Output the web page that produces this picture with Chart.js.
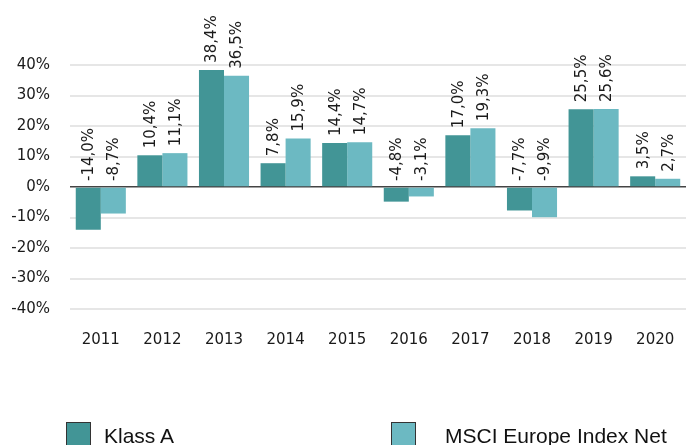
<!DOCTYPE html>
<html>
<head>
<meta charset="utf-8">
<script src="https://cdn.jsdelivr.net/npm/chart.js@4/dist/chart.umd.min.js"></script>
<style>
  html, body { margin: 0; padding: 0; background: #fff; overflow: hidden; }
  #wrap { position: relative; width: 688px; height: 445px; }
  canvas { position: absolute; left: 0; top: 0; }
  .lg-box { position: absolute; width: 25px; height: 25px; border: 1px solid #333; box-sizing: border-box; }
  .lg-text { position: absolute; font-family: "Liberation Sans", Arial, sans-serif; font-size: 21px; color: #111; line-height: 24px; white-space: nowrap; }
</style>
</head>
<body>
<div id="wrap">
  <canvas id="c" width="688" height="445"></canvas>
  <div class="lg-box" id="box1" style="left:66px; top:422px;"></div>
  <div class="lg-text" id="txt1" style="left:104px; top:424px;"></div>
  <div class="lg-box" id="box2" style="left:391px; top:422px;"></div>
  <div class="lg-text" id="txt2" style="left:445px; top:424px;"></div>
</div>
<script>
const categories = ["2011", "2012", "2013", "2014", "2015", "2016", "2017", "2018", "2019", "2020"];
const seriesNames = ["Klass A", "MSCI Europe Index Net"];
const klassA = [-14.0, 10.4, 38.4, 7.8, 14.4, -4.8, 17.0, -7.7, 25.5, 3.5];
const msci = [-8.7, 11.1, 36.5, 15.9, 14.7, -3.1, 19.3, -9.9, 25.6, 2.7];
const yTicks = [-40, -30, -20, -10, 0, 10, 20, 30, 40];
const colors = ["#429596", "#6cb9c2"];

document.getElementById('box1').style.background = colors[0];
document.getElementById('box2').style.background = colors[1];
document.getElementById('txt1').textContent = seriesNames[0];
document.getElementById('txt2').textContent = seriesNames[1];

const fmt = v => v.toFixed(1).replace('.', ',') + '%';

const labelPlugin = {
  id: 'barLabels',
  afterDatasetsDraw(chart) {
    const ctx = chart.ctx;
    const zero = chart.scales.y.getPixelForValue(0);
    ctx.save();
    ctx.font = '15px "DejaVu Sans"';
    ctx.fillStyle = '#1a1a1a';
    ctx.textAlign = 'left';
    ctx.textBaseline = 'middle';
    chart.data.datasets.forEach((ds, di) => {
      const meta = chart.getDatasetMeta(di);
      meta.data.forEach((bar, i) => {
        const v = ds.data[i];
        const y = v >= 0 ? bar.y - 7 : zero - 6;
        ctx.save();
        ctx.translate(bar.x + 1, y);
        ctx.rotate(-Math.PI / 2);
        ctx.fillText(fmt(v), 0, 0);
        ctx.restore();
      });
    });
    ctx.restore();
  }
};

new Chart(document.getElementById('c'), {
  type: 'bar',
  data: {
    labels: categories,
    datasets: [
      { label: seriesNames[0], data: klassA, backgroundColor: colors[0] },
      { label: seriesNames[1], data: msci, backgroundColor: colors[1] }
    ]
  },
  options: {
    responsive: false,
    animation: false,
    events: [],
    layout: { padding: { top: 65, right: 2, left: 0, bottom: 0 } },
    datasets: { bar: { categoryPercentage: 0.813, barPercentage: 1.0 } },
    plugins: { legend: { display: false }, tooltip: { enabled: false } },
    scales: {
      x: {
        grid: { display: false, drawTicks: false },
        border: { display: false },
        ticks: { color: '#1a1a1a', font: { family: 'DejaVu Sans', size: 15 }, padding: 22, maxRotation: 0 },
        afterFit(scale) { scale.height = 136; scale.paddingRight = 0; scale.paddingLeft = 0; }
      },
      y: {
        min: -40, max: 40,
        afterBuildTicks(scale) { scale.ticks = yTicks.map(v => ({ value: v })); },
        grid: {
          drawTicks: false,
          color: ctx => ctx.tick && ctx.tick.value === 0 ? '#444' : '#e6e6e6',
          lineWidth: ctx => ctx.tick && ctx.tick.value === 0 ? 1.5 : 2
        },
        border: { display: false },
        ticks: {
          color: '#1a1a1a', font: { family: 'DejaVu Sans', size: 15 }, padding: 20,
          callback: v => v + '%'
        },
        afterFit(scale) { scale.width = 70; }
      }
    }
  },
  plugins: [labelPlugin]
});
</script>
</body>
</html>
